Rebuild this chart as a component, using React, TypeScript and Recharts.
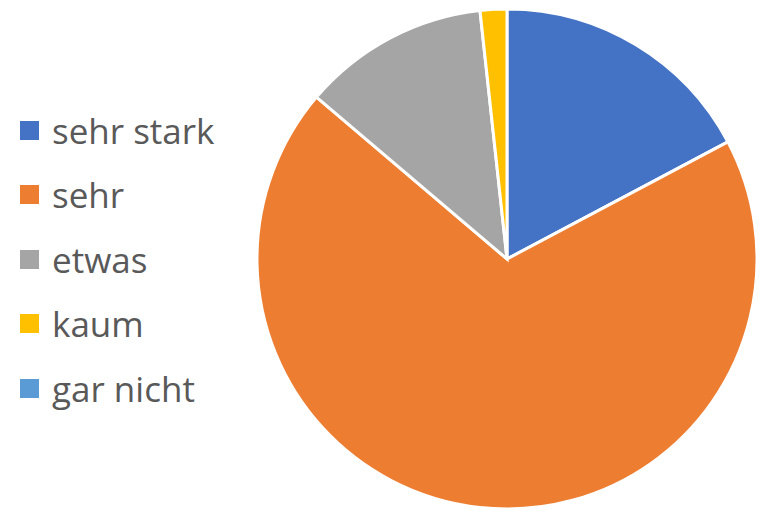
import React from "react";
import { PieChart, Pie, Cell, Legend } from "recharts";

const categories = ["sehr stark", "sehr", "etwas", "kaum", "gar nicht"];
const counts = [10, 40, 7, 1, 0];
const colors = ["#4472C4", "#ED7D31", "#A5A5A5", "#FFC000", "#5B9BD5"];

const data = categories.map((name, i) => ({ name, value: counts[i] }));

const renderLegend = () => (
  <div style={{ fontFamily: "'Open Sans', sans-serif" }}>
    {categories.map((name, i) => (
      <div
        key={name}
        style={{ display: "flex", alignItems: "center", height: 64.5 }}
      >
        <span
          style={{
            display: "inline-block",
            width: 19,
            height: 19,
            background: colors[i],
            marginRight: 13,
          }}
        />
        <span style={{ fontSize: 35, color: "#595959" }}>{name}</span>
      </div>
    ))}
  </div>
);

export default function App() {
  return (
    <PieChart
      width={764}
      height={516}
      margin={{ top: 0, right: 0, bottom: 0, left: 0 }}
    >
      <Pie
        data={data}
        dataKey="value"
        nameKey="name"
        cx={499}
        cy={251}
        outerRadius={250}
        startAngle={90}
        endAngle={-270}
        stroke="#fff"
        strokeWidth={3}
        isAnimationActive={false}
      >
        {data.map((d, i) => (
          <Cell key={d.name} fill={colors[i]} />
        ))}
      </Pie>
      <Legend
        content={renderLegend}
        wrapperStyle={{ left: 12, top: 90, width: 240 }}
      />
    </PieChart>
  );
}
